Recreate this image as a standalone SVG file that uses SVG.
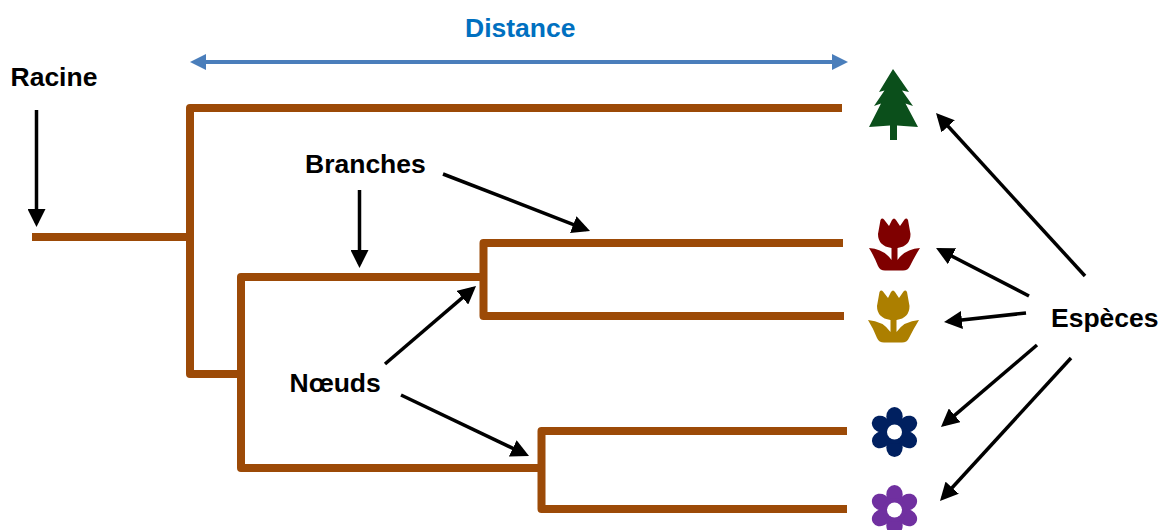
<svg xmlns="http://www.w3.org/2000/svg" width="1166" height="530" viewBox="0 0 1166 530">
<style>
.b{fill:none;stroke:#9c4a07;stroke-width:8;stroke-linejoin:round}
.a{fill:none;stroke:#000;stroke-width:3.500;marker-end:url(#ah)}
text{font-family:"Liberation Sans",Arial,sans-serif;font-weight:bold;font-size:26.500px;fill:#000}
</style>
<defs>
<marker id="ah" markerUnits="userSpaceOnUse" markerWidth="18" markerHeight="18" refX="14" refY="9" orient="auto"><path d="M0,0L18,9L0,18Z" fill="#000"/></marker>
<marker id="bh" markerUnits="userSpaceOnUse" markerWidth="16" markerHeight="16" refX="12" refY="8" orient="auto-start-reverse"><path d="M0,0L16,8L0,16Z" fill="#4a7ebb"/></marker>
<path id="tulip" d="M878,234L880.500,220Q882,217.500 884,219.500L889,226L892,220Q894,217 896,220L900,226L904.500,219.500Q906.500,217.500 908,220L910.500,234Q910.500,246 897.500,248L897.500,260Q905,249 920,248Q915,256 910,266Q908,270.500 903,270.500L885,270.500Q880,270.500 878,266Q874,256 869,248Q884,249 891.500,260L891.500,248Q878,246 878,234Z"/>
<g id="flower"><ellipse cy="-15.500" rx="8.200" ry="9.500"/><ellipse cy="15.500" rx="8.200" ry="9.500"/><ellipse cy="-15.500" rx="8.200" ry="9.500" transform="rotate(60)"/><ellipse cy="-15.500" rx="8.200" ry="9.500" transform="rotate(120)"/><ellipse cy="-15.500" rx="8.200" ry="9.500" transform="rotate(240)"/><ellipse cy="-15.500" rx="8.200" ry="9.500" transform="rotate(300)"/><circle r="12"/></g>
</defs>
<g id="connectors">
<path class="b" d="M32,237H190M842,108H190V374H241M483,277H241V468H541M843,243H483.500V316H844M847,431H541.500V509H847"/>
<path d="M194,62H844" fill="none" stroke="#4a7ebb" stroke-width="4" marker-start="url(#bh)" marker-end="url(#bh)"/>
<path class="a" d="M36.500,110V223"/>
<path class="a" d="M359.500,190V264"/>
<path class="a" d="M443,174L586.300,229.600"/>
<path class="a" d="M385,364L473,288.600"/>
<path class="a" d="M401,395L525.400,454.300"/>
<path class="a" d="M1085,276L938.700,116"/>
<path class="a" d="M1029,296L939.600,249.800"/>
<path class="a" d="M1026,313L948,321.600"/>
<path class="a" d="M1037,345L944,424.400"/>
<path class="a" d="M1071,358L942.700,498"/>
</g>
<g id="label-distance"><text x="465" y="36.500" style="fill:#0070c0">Distance</text></g>
<g id="label-racine"><text x="10.500" y="86">Racine</text></g>
<g id="label-branches"><text x="305" y="172.500">Branches</text></g>
<g id="label-noeuds"><text x="289.500" y="392">Nœuds</text></g>
<g id="label-especes"><text x="1051" y="326.500">Espèces</text></g>
<g id="species-tree"><path fill="#0b4f1b" d="M893,69L909,92L902,90.500L913,106L905.500,103.500L918,127Q907,126 897,125.500L897,140L890,140L890,125.500Q880,126 869,127L881,103.500L874,106L884.500,90.500L879,92Z"/></g>
<g id="species-tulip-red"><use href="#tulip" fill="#7f0000"/></g>
<g id="species-tulip-gold"><use href="#tulip" x="-1" y="72" fill="#ac7f00"/></g>
<g id="species-flower-blue"><use href="#flower" x="894.500" y="432" fill="#002060"/><circle cx="894.500" cy="432" r="7.500" fill="#fff"/></g>
<g id="species-flower-purple"><use href="#flower" x="894.500" y="510" fill="#7030a0"/><circle cx="894.500" cy="510" r="7.500" fill="#fff"/></g>
</svg>
